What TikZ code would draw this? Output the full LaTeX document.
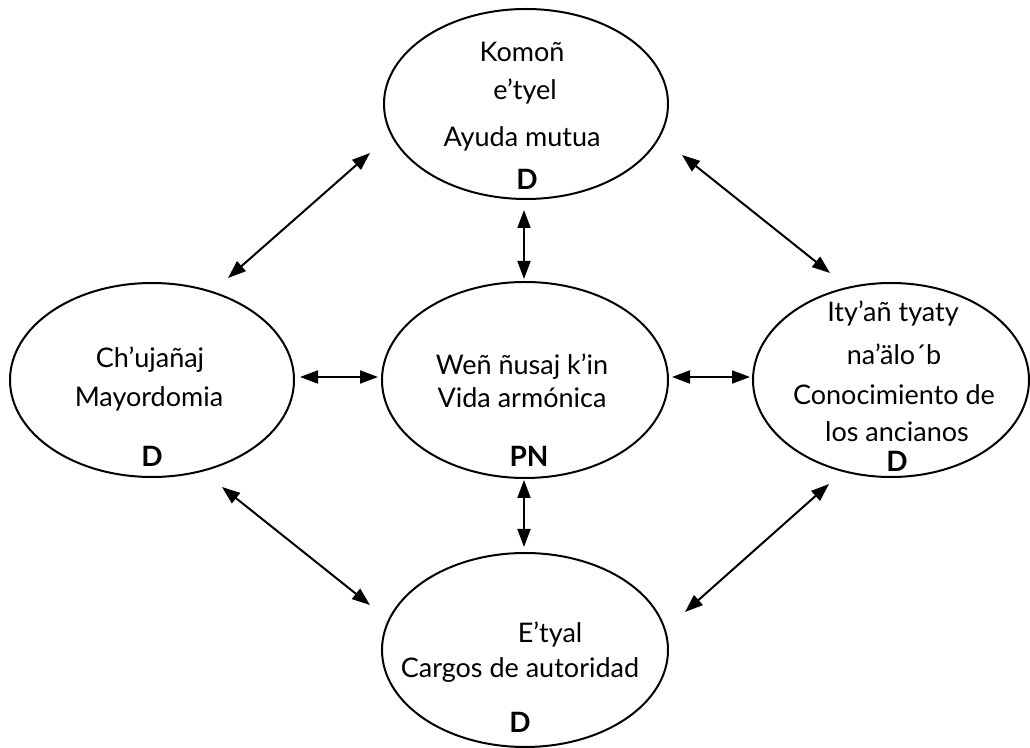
\documentclass[tikz,border=0pt]{standalone}
\usepackage{fontspec}
\setmainfont{Lato}
\usetikzlibrary{shapes.geometric,arrows.meta}
\begin{document}
\begin{tikzpicture}[x=0.5pt,y=-0.5pt,
  ell/.style={draw, ellipse, line width=1pt, inner sep=0pt},
  lbl/.style={anchor=base, inner sep=0pt, font=\fontsize{13.5}{16}\selectfont},
  tag/.style={anchor=base, inner sep=0pt, font=\fontsize{14}{16}\selectfont\bfseries},
  dbl/.style={line width=1pt, {Triangle[length=9pt,width=6.5pt]}-{Triangle[length=9pt,width=6.5pt]}}]
\useasboundingbox (0,0) rectangle (1030,748);
% ellipses
\node[ell, minimum width=142pt, minimum height=95pt] (T) at (526,104) {};
\node[ell, minimum width=143pt, minimum height=98pt] (C) at (525,380) {};
\node[ell, minimum width=142pt, minimum height=97pt] (L) at (152,380) {};
\node[ell, minimum width=138pt, minimum height=97pt] (R) at (891,380) {};
\node[ell, minimum width=143pt, minimum height=97pt] (B) at (525,650) {};
% texts
\node[lbl] (t1) at (522,62) {Komoñ};
\node[lbl] (t2) at (525,100) {e’tyel};
\node[lbl] (t3) at (522,147) {Ayuda mutua};
\node[tag] (t4) at (527,190) {D};
\node[lbl] (c1) at (522,375) {Weñ ñusaj k’in};
\node[lbl] (c2) at (522,408) {Vida armónica};
\node[tag] (c3) at (529,467) {PN};
\node[lbl] (l1) at (150,368) {Ch’ujañaj};
\node[lbl] (l2) at (149,407) {Mayordomia};
\node[tag] (l3) at (152,467) {D};
\node[lbl] (r1) at (893,322) {Ity’añ tyaty};
\node[lbl] (r2) at (894,365) {na’älo´b};
\node[lbl] (r3) at (894,405) {Conocimiento de};
\node[lbl] (r4) at (897,442) {los ancianos};
\node[tag] (r5) at (897,472) {D};
\node[lbl] (b1) at (550,643) {E’tyal};
\node[lbl] (b2) at (520,678) {Cargos de autoridad};
\node[tag] (b3) at (520,733) {D};
% arrow ends
\coordinate (tc1) at (524,210); \coordinate (tc2) at (524,279);
\coordinate (cb1) at (524,480); \coordinate (cb2) at (524,547);
\coordinate (lc1) at (300,377); \coordinate (lc2) at (378,377);
\coordinate (cr1) at (672,377); \coordinate (cr2) at (750,377);
\coordinate (tl1) at (370,153); \coordinate (tl2) at (228,278);
\coordinate (tr1) at (682,155); \coordinate (tr2) at (830,273);
\coordinate (bl1) at (222,487); \coordinate (bl2) at (370,605);
\coordinate (br1) at (829,484); \coordinate (br2) at (685,612);
\draw[dbl] (tc1) -- (tc2);
\draw[dbl] (cb1) -- (cb2);
\draw[dbl] (lc1) -- (lc2);
\draw[dbl] (cr1) -- (cr2);
\draw[dbl] (tl1) -- (tl2);
\draw[dbl] (tr1) -- (tr2);
\draw[dbl] (bl1) -- (bl2);
\draw[dbl] (br1) -- (br2);
\end{tikzpicture}
\end{document}
